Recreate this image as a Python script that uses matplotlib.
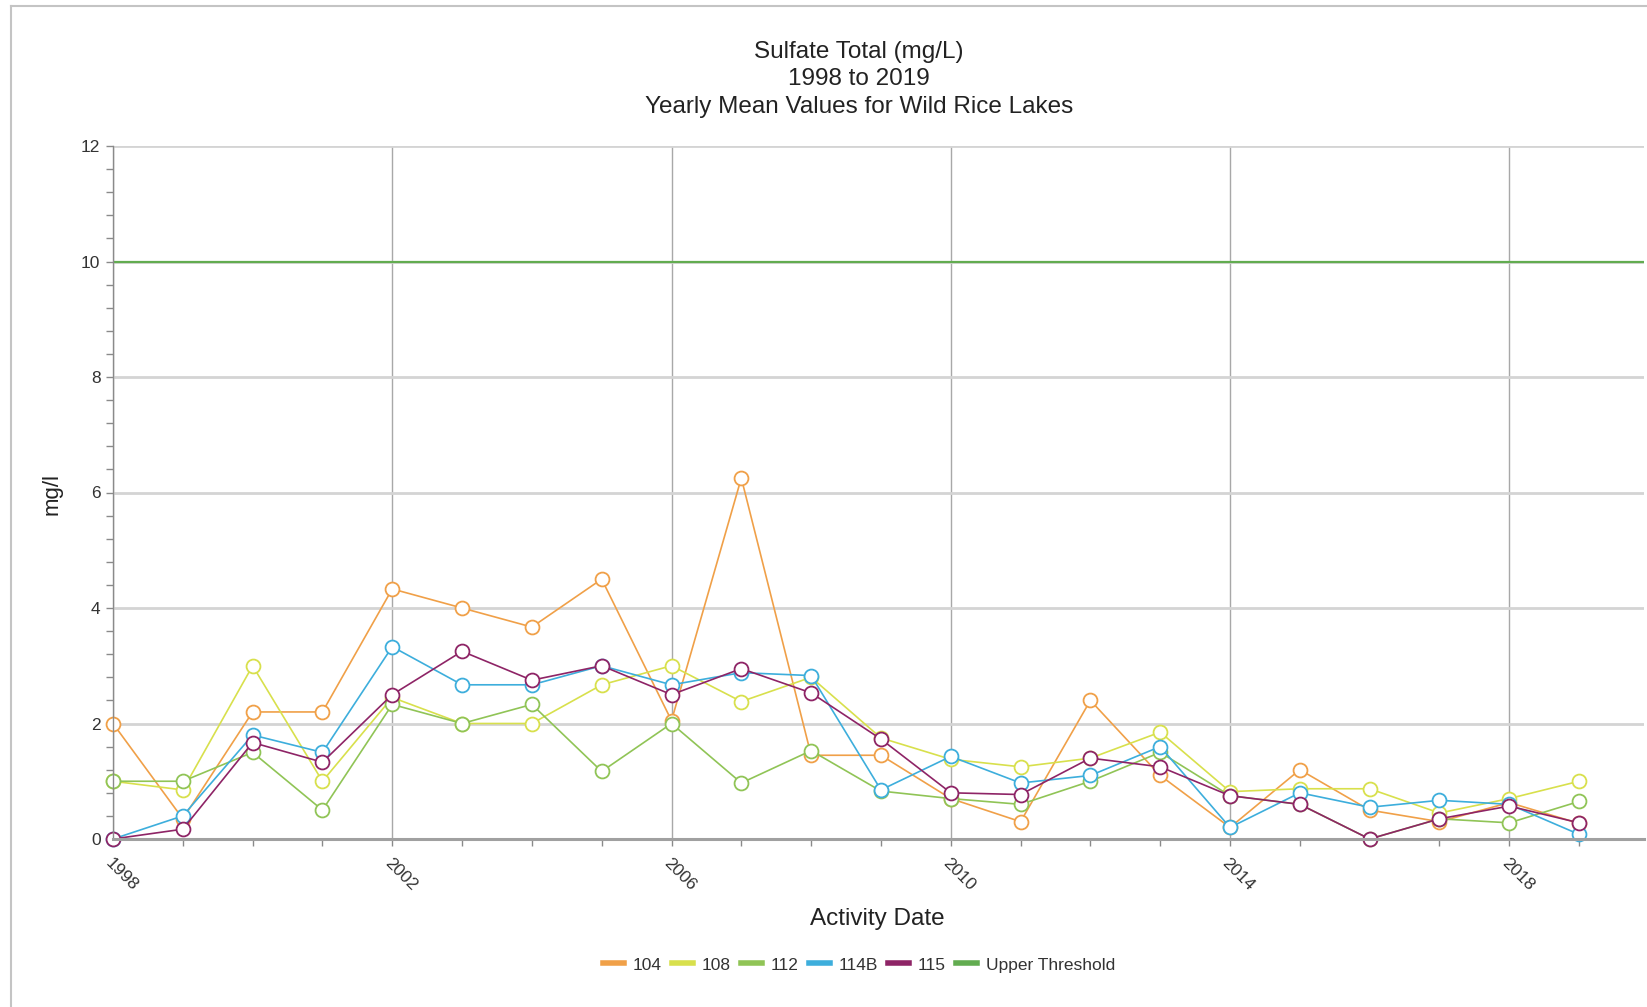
import numpy as np
import matplotlib
matplotlib.use("Agg")
import matplotlib.pyplot as plt
from matplotlib.lines import Line2D
from matplotlib.ticker import MultipleLocator, FixedLocator

plt.rcParams['font.family'] = ['Liberation Sans', 'DejaVu Sans']

# yearly means
years = list(range(1998, 2020))
s104 = [2.0, 0.35, 2.2, 2.2, 4.33, 4.0, 3.67, 4.5, 2.05, 6.25, 1.45, 1.45, 0.7, 0.3, 2.4, 1.1, 0.2, 1.2, 0.5, 0.3, 0.63, 0.27]
s108 = [1.0, 0.85, 3.0, 1.0, 2.45, 2.0, 2.0, 2.67, 3.0, 2.38, 2.8, 1.75, 1.38, 1.25, 1.4, 1.85, 0.82, 0.87, 0.87, 0.45, 0.7, 1.0]
s112 = [1.0, 1.0, 1.5, 0.5, 2.33, 2.0, 2.33, 1.17, 2.0, 0.97, 1.53, 0.83, 0.7, 0.6, 1.0, 1.5, 0.75, 0.6, 0.0, 0.35, 0.28, 0.65]
s114b = [0.0, 0.4, 1.8, 1.5, 3.33, 2.67, 2.67, 3.0, 2.67, 2.88, 2.83, 0.85, 1.43, 0.97, 1.1, 1.6, 0.2, 0.8, 0.55, 0.67, 0.6, 0.08]
s115 = [0.0, 0.17, 1.67, 1.33, 2.5, 3.25, 2.75, 3.0, 2.5, 2.95, 2.53, 1.73, 0.8, 0.77, 1.4, 1.25, 0.75, 0.6, 0.0, 0.35, 0.57, 0.28]
upper_threshold = 10
major_years = list(range(1998, 2020, 4))

series_names = ['104', '108', '112', '114B', '115']
series_vals = [s104, s108, s112, s114b, s115]
colors = ['#F0A048', '#D8E04C', '#90C456', '#3DAEDC', '#8E2466']
threshold_color = '#62AC50'

W, H = 1647, 1007
fig = plt.figure(figsize=(W / 100, H / 100), dpi=100)

left, right, top, bottom = 113, 1644, 146, 839
ax = fig.add_axes([left / W, 1 - bottom / H, (right - left) / W, (bottom - top) / H])

for name, vals, c in zip(series_names, series_vals, colors):
    ax.plot(years, vals, color=c, lw=1.2, marker='o', ms=10,
            mfc='white', mec=c, mew=1.3, label=name, clip_on=False)

ax.axhline(upper_threshold, color=threshold_color, lw=1.6, label='Upper Threshold')

ax.set_xlim(1998, 2019.93)
ax.set_ylim(0, 12)

ax.xaxis.set_major_locator(FixedLocator(major_years))
ax.xaxis.set_minor_locator(MultipleLocator(1))
ax.yaxis.set_major_locator(MultipleLocator(2))
ax.yaxis.set_minor_locator(MultipleLocator(0.4))

ax.grid(axis='y', which='major', color='#d4d4d4', lw=2)
ax.grid(axis='x', which='major', color='#a8a8a8', lw=1.0)
ax.set_axisbelow(True)

for s in ['top', 'right']:
    ax.spines[s].set_visible(False)
ax.spines['left'].set_color('#8a8a8a')
ax.spines['left'].set_linewidth(1.0)
ax.spines['bottom'].set_color('#a0a0a0')
ax.spines['bottom'].set_linewidth(2.2)

ax.tick_params(axis='both', which='both', length=5, width=1, color='#8a8a8a')
ax.tick_params(axis='y', labelsize=12.5, labelcolor='#333333', pad=4)
ax.tick_params(axis='x', labelsize=12.5, labelcolor='#333333', pad=7)

ax.set_xticks(major_years)
ax.set_xticklabels([str(y) for y in major_years], rotation=-45, ha='left', va='top',
                   rotation_mode='anchor')

fig.text(859 / W, 1 - 52 / H, 'Sulfate Total (mg/L)', ha='center', va='center', fontsize=17.5, color='#222222')
fig.text(859 / W, 1 - 79 / H, '1998 to 2019', ha='center', va='center', fontsize=17.5, color='#222222')
fig.text(859 / W, 1 - 107 / H, 'Yearly Mean Values for Wild Rice Lakes', ha='center', va='center', fontsize=17.5, color='#222222')

fig.text(52 / W, 1 - 494 / H, 'mg/l', ha='center', va='center', rotation=90, fontsize=16, color='#222222')
fig.text(877 / W, 1 - 919 / H, 'Activity Date', ha='center', va='center', fontsize=17.5, color='#222222')

handles = [Line2D([], [], color=c, lw=4) for c in colors + [threshold_color]]
labels = series_names + ['Upper Threshold']
fig.legend(handles, labels, loc='center', bbox_to_anchor=(859 / W, 1 - 965 / H),
           ncol=6, frameon=False, fontsize=12.5, handlelength=1.2, handletextpad=0.5,
           columnspacing=0.6, labelcolor='#333333')

# outer frame (top and left edges visible)
fig.add_artist(Line2D([11 / W, 11 / W], [0, 1 - 6 / H], color='#c4c4c4', lw=1.5))
fig.add_artist(Line2D([11 / W, 1], [1 - 6 / H, 1 - 6 / H], color='#c4c4c4', lw=1.5))

fig.savefig('out.png', dpi=100, facecolor='white')
